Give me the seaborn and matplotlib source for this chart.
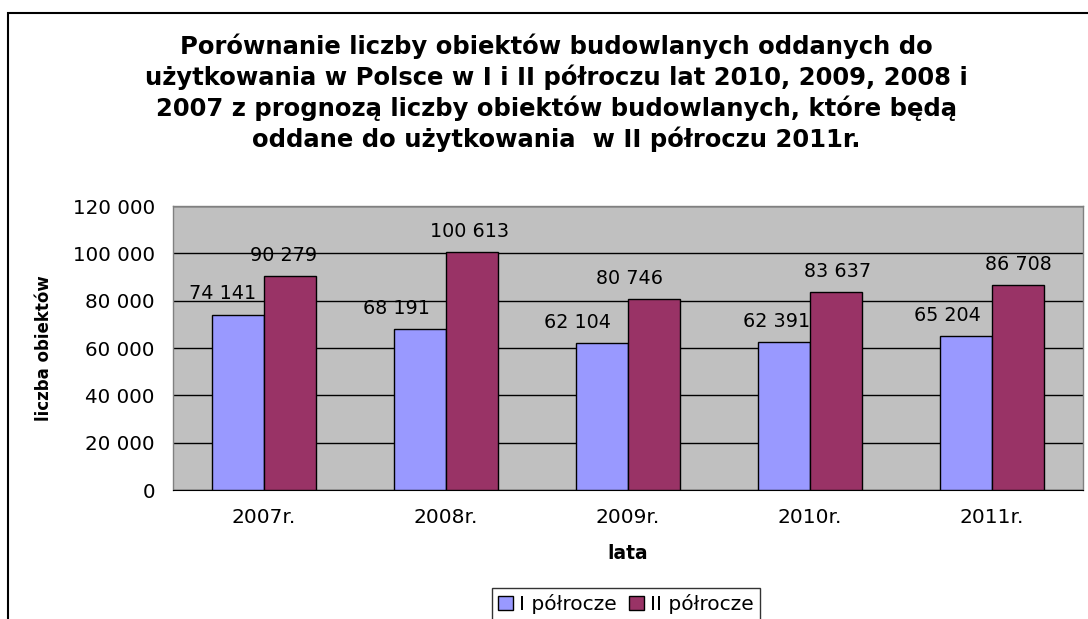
import numpy as np
import pandas as pd
import seaborn as sns
import matplotlib.pyplot as plt
from matplotlib.patches import Rectangle, Patch
from matplotlib.ticker import FuncFormatter, FixedLocator

# dane
lata = ["2007r.", "2008r.", "2009r.", "2010r.", "2011r."]
i_polrocze = [74141, 68191, 62104, 62391, 65204]
ii_polrocze = [90279, 100613, 80746, 83637, 86708]
serie = ["I półrocze", "II półrocze"]
kolory = ["#9999FF", "#993366"]

tytul = ("Porównanie liczby obiektów budowlanych oddanych do\n"
         "użytkowania w Polsce w I i II półroczu lat 2010, 2009, 2008 i\n"
         "2007 z prognozą liczby obiektów budowlanych, które będą\n"
         "oddane do użytkowania  w II półroczu 2011r.")

# przesunięcia etykiet (px) - w oryginale przesunięte ręcznie
przes_i = [-16, -24, -25, -8, -19]
przes_ii = [-6, -2, -24, 2, 0]

sns.set_style("white")
plt.rcParams["font.family"] = ["DejaVu Sans"]
plt.rcParams["text.color"] = "black"
plt.rcParams["axes.labelcolor"] = "black"
plt.rcParams["xtick.color"] = "black"
plt.rcParams["ytick.color"] = "black"

df = pd.DataFrame({
    "lata": lata * 2,
    "seria": [serie[0]] * len(lata) + [serie[1]] * len(lata),
    "liczba": i_polrocze + ii_polrocze,
})

fig = plt.figure(figsize=(10.88, 6.19), dpi=100)
ax = fig.add_axes([173 / 1088, 1 - 490 / 619, (1083 - 173) / 1088, (490 - 206) / 619])

sns.barplot(data=df, x="lata", y="liczba", hue="seria", palette=kolory,
            width=0.57, edgecolor="black", linewidth=1, saturation=1,
            ax=ax, legend=False, zorder=3)

ax.set_facecolor("#C0C0C0")
ax.set_axisbelow(True)
ax.set_ylim(0, 120000)
ax.set_xlim(-0.5, 4.5)
ax.set_yticks(np.arange(0, 120001, 20000))
ax.yaxis.set_major_formatter(FuncFormatter(lambda v, p: f"{int(v):,}".replace(",", " ")))
ax.yaxis.grid(True, color="black", linewidth=1)
ax.xaxis.grid(False)

# etykiety kategorii między znacznikami
ax.xaxis.set_major_locator(FixedLocator(np.arange(-0.5, 5, 1)))
ax.xaxis.set_major_formatter(FuncFormatter(lambda v, p: ""))
ax.xaxis.set_minor_locator(FixedLocator(np.arange(0, 5)))
ax.set_xticklabels(lata, minor=True)
ax.tick_params(axis="x", which="major", direction="out", length=5, width=1, color="black")
ax.tick_params(axis="x", which="minor", length=0, labelsize=14.5, pad=13)
ax.tick_params(axis="y", direction="out", length=5, width=1, color="black", labelsize=14.3, pad=8)

for s in ["top", "right", "left"]:
    ax.spines[s].set_color("#808080")
    ax.spines[s].set_linewidth(1)
ax.spines["bottom"].set_color("black")

ax.set_xlabel("lata", fontsize=13.5, fontweight="bold", labelpad=12)
ax.set_ylabel("liczba obiektów", fontsize=12, fontweight="bold", labelpad=14)

# etykiety wartości
for cont, przes in zip(ax.containers, [przes_i, przes_ii]):
    for bar, dx in zip(cont, przes):
        h = bar.get_height()
        ax.annotate(f"{int(h):,}".replace(",", " "),
                    (bar.get_x() + bar.get_width() / 2, h),
                    xytext=(dx * 0.72, 8), textcoords="offset points",
                    ha="center", va="bottom", fontsize=13.8, zorder=5)

fig.text(556 / 1088, 1 - 93 / 619, tytul, ha="center", va="center",
         fontsize=17.5, fontweight="bold", linespacing=1.27)

uchwyty = [Patch(facecolor=c, edgecolor="black", linewidth=1) for c in kolory]
leg = fig.legend(uchwyty, serie, loc="upper center", bbox_to_anchor=(626 / 1088, 1 - 588 / 619),
                 ncol=2, fontsize=14.5, frameon=True, fancybox=False, handlelength=0.75,
                 handleheight=0.75, handletextpad=0.3, columnspacing=0.6, borderpad=0.3,
                 borderaxespad=0)
leg.get_frame().set_edgecolor("black")
leg.get_frame().set_linewidth(1)

fig.add_artist(Rectangle((8 / 1088, -0.1), 1.2, 1.1 - 13 / 619, fill=False,
                         edgecolor="black", linewidth=1.5, transform=fig.transFigure))

fig.savefig("out.png", dpi=100)
